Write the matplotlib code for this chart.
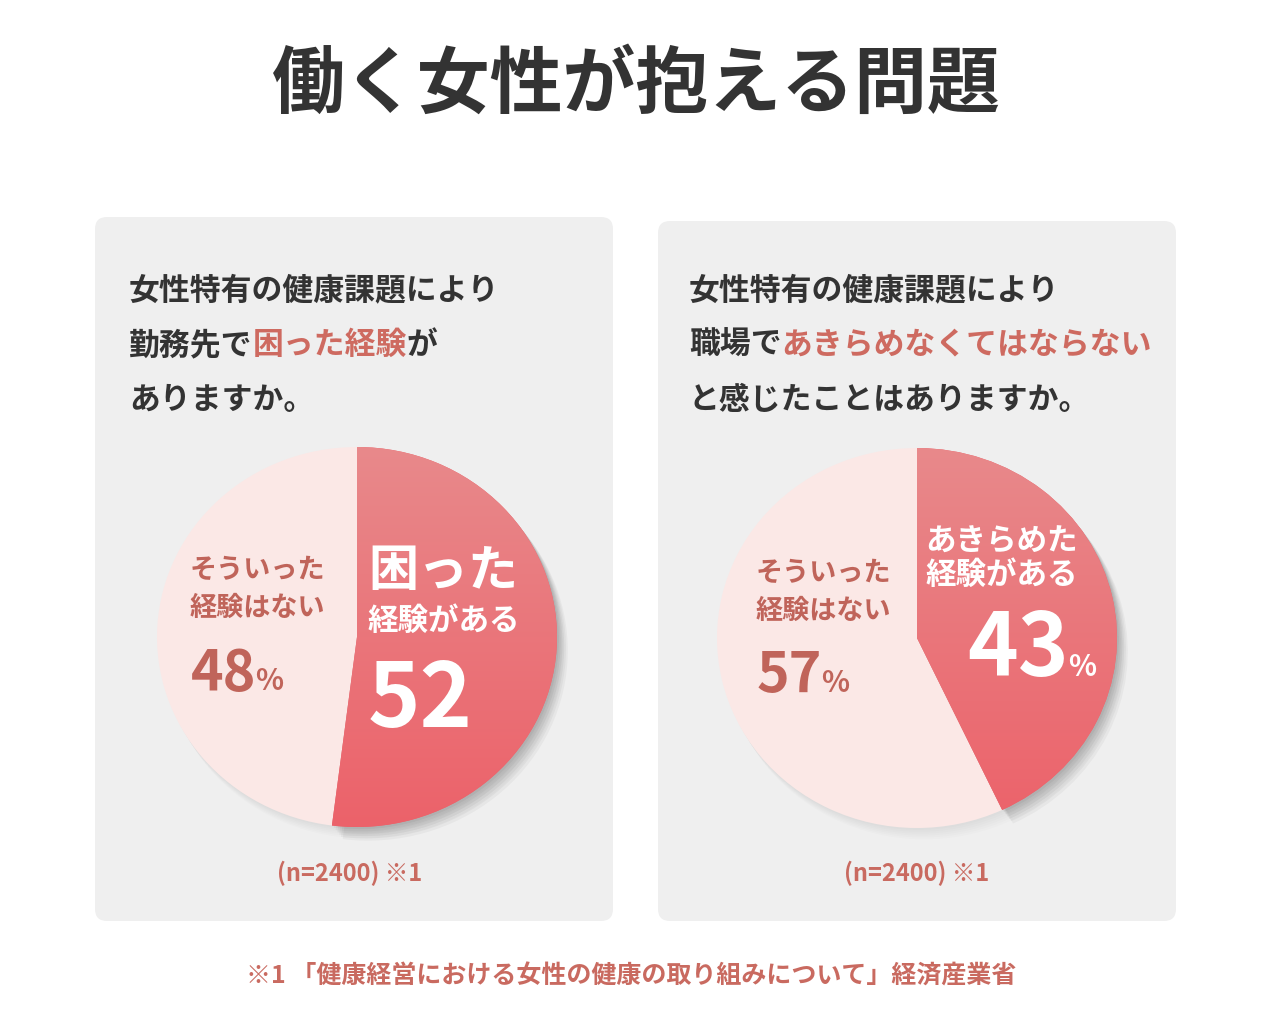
import matplotlib.pyplot as plt
from matplotlib.patches import FancyBboxPatch, Wedge
from matplotlib.colors import LinearSegmentedColormap
import numpy as np

plt.rcParams['font.family'] = ['Noto Sans CJK JP', 'DejaVu Sans']

# ---- data ----
title = "働く女性が抱える問題"
question_left = [
    [("女性特有の健康課題により", False)],
    [("勤務先で", False), ("困った経験", True), ("が", False)],
    [("ありますか。", False)],
]
question_right = [
    [("女性特有の健康課題により", False)],
    [("職場で", False), ("あきらめなくてはならない", True)],
    [("と感じたことはありますか。", False)],
]
yes_pct = [52, 43]
no_pct = [48, 57]
yes_head = ["困った", "あきらめた"]
yes_tail = ["経験がある", "経験がある"]
no_label = ["そういった", "経験はない"]
show_pct_sign = [False, True]
sample_note = "(n=2400) ※1"
footnote = "※1 「健康経営における女性の健康の取り組みについて」経済産業省"

# ---- style ----
W, H = 1272, 1036
DARK = "#333333"
HILITE = "#CE6A60"
BROWN = "#C0645A"
NOTE = "#C96A60"
BOX = "#EFEFEF"
LIGHT = "#FBE8E6"
RED_TOP = "#E8898B"
RED_BOTTOM = "#EC626A"

fig = plt.figure(figsize=(W / 100, H / 100), dpi=100)
bg = fig.add_axes([0, 0, 1, 1], zorder=0)
bg.set_xlim(0, W)
bg.set_ylim(H, 0)
bg.axis('off')
fg = fig.add_axes([0, 0, 1, 1], zorder=3)
fg.set_xlim(0, W)
fg.set_ylim(H, 0)
fg.axis('off')
fg.patch.set_alpha(0)
renderer = fig.canvas.get_renderer()


def right_edge(t):
    bb = t.get_window_extent(renderer=renderer)
    return fg.transData.inverted().transform((bb.x1, bb.y0))[0]


def seg_line(x, y, segments, size):
    for txt, hi in segments:
        t = fg.text(x, y, txt, fontsize=size, fontweight='bold', va='center', ha='left',
                    color=HILITE if hi else DARK)
        x = right_edge(t)


def number(x, y, value, size, color, pct_size=None):
    t = fg.text(x, y, str(value), fontsize=size, fontweight='bold', va='baseline', ha='left', color=color)
    if pct_size:
        fg.text(right_edge(t) - 1, y, "%", fontsize=pct_size, fontweight='bold', va='baseline',
                ha='left', color=color)


def draw_pie(cx, cy, yes, no):
    rx, ry, pad = 200, 190, 1.15
    ax = fig.add_axes([(cx - rx * pad) / W, (H - cy - ry * pad) / H, 2 * rx * pad / W, 2 * ry * pad / H],
                      zorder=1)
    wedges, _ = ax.pie([yes, no], startangle=90, counterclock=False, colors=[RED_BOTTOM, LIGHT],
                       radius=1, wedgeprops=dict(linewidth=0))
    red, light = wedges
    light.set_zorder(1)
    red.set_zorder(4)
    # soft shadows
    for k in range(1, 7):
        ax.add_patch(Wedge((0.006 * k, -0.01 * k), 1, 0, 360, color='black', alpha=0.012, lw=0, zorder=0))
        ax.add_patch(Wedge((0.009 * k, -0.012 * k), 1, red.theta1, red.theta2, color='black',
                           alpha=0.035, lw=0, zorder=2))
    cmap = LinearSegmentedColormap.from_list("redgrad", [RED_TOP, RED_BOTTOM])
    grad = np.linspace(0, 1, 256)[:, None]
    im = ax.imshow(grad, extent=(-1, 1, -1, 1), origin='upper', cmap=cmap, aspect='auto', zorder=5)
    im.set_clip_path(red)
    ax.set_aspect('auto')
    ax.set_xlim(-pad, pad)
    ax.set_ylim(-pad, pad)
    ax.axis('off')


# title
fg.text(636, 85, title, fontsize=52.5, fontweight='bold', ha='center', va='center', color=DARK)

# panels
for x0, y0 in [(95, 217), (658, 221)]:
    bg.add_patch(FancyBboxPatch((x0, y0), 518, 921 - y0, boxstyle="round,pad=0,rounding_size=12",
                                facecolor=BOX, edgecolor='none'))

for qx, lines in [(129, question_left), (689, question_right)]:
    for i, segs in enumerate(lines):
        seg_line(qx, 290 + 55 * i, segs, 22.2)

# pies
draw_pie(357, 637, yes_pct[0], no_pct[0])
draw_pie(917, 638, yes_pct[1], no_pct[1])

# left pie labels
fg.text(190, 570, no_label[0], fontsize=19.5, fontweight='bold', color=BROWN, va='center')
fg.text(190, 608, no_label[1], fontsize=19.5, fontweight='bold', color=BROWN, va='center')
number(191, 690, no_pct[0], 40, BROWN, 21)
fg.text(368, 572, yes_head[0], fontsize=36, fontweight='bold', color='white', va='center')
fg.text(367, 621, yes_tail[0], fontsize=22, fontweight='bold', color='white', va='center')
number(368, 727, yes_pct[0], 64, 'white', 28 if show_pct_sign[0] else None)

# right pie labels
fg.text(756, 573, no_label[0], fontsize=19.5, fontweight='bold', color=BROWN, va='center')
fg.text(756, 611, no_label[1], fontsize=19.5, fontweight='bold', color=BROWN, va='center')
number(757, 692, no_pct[1], 40, BROWN, 21)
fg.text(925, 541, yes_head[1], fontsize=22, fontweight='bold', color='white', va='center')
fg.text(925, 575, yes_tail[1], fontsize=22, fontweight='bold', color='white', va='center')
number(967, 676, yes_pct[1], 62, 'white', 21 if show_pct_sign[1] else None)

# sample notes
fg.text(350, 873, sample_note, fontsize=17, fontweight='bold', color=NOTE, ha='center', va='center')
fg.text(917, 873, sample_note, fontsize=17, fontweight='bold', color=NOTE, ha='center', va='center')

# footnote
fg.text(631, 977, footnote, fontsize=18, fontweight='bold', color=NOTE, ha='center', va='center')

fig.savefig("out.png", dpi=100, facecolor='white')
